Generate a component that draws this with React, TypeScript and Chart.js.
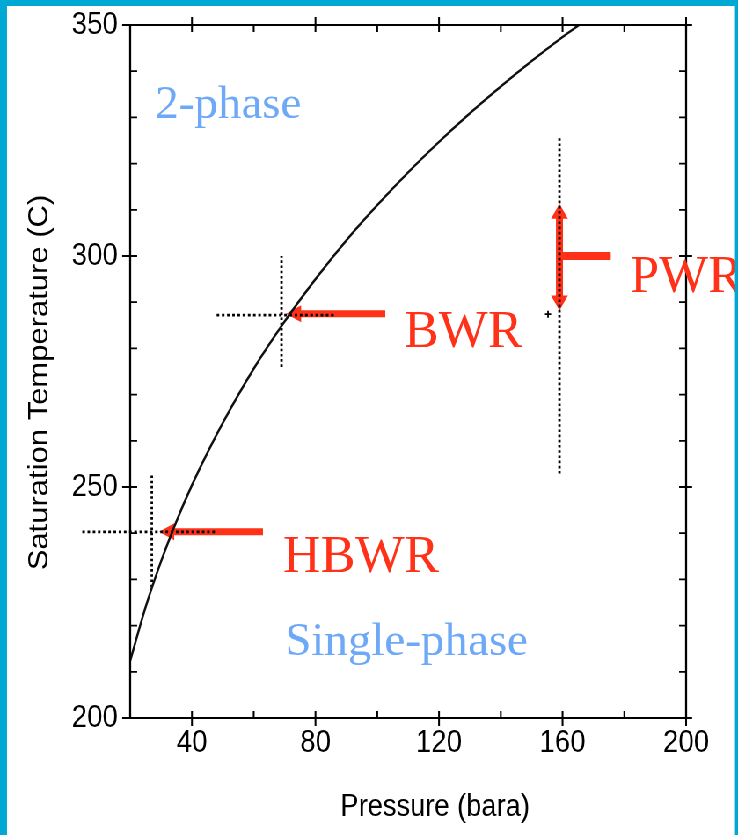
import { useEffect, useRef } from 'react';
import { Chart, registerables } from 'chart.js';

Chart.register(...registerables);

// The figure is laid out on a wider stage and squeezed horizontally to 738px.
const STAGE_W = 839;
const STAGE_H = 835;
const SQUEEZE = 738 / STAGE_W;

// Saturation line of water
const pressureBar = [20, 25, 30, 35, 40, 45, 50, 60, 70, 80, 90, 100, 110, 120, 130, 140, 150, 160, 165.3];
const saturationC = [212.4, 224.0, 233.9, 242.6, 250.4, 257.4, 263.9, 275.6, 285.8, 295.0, 303.4, 311.0, 318.1, 324.7, 330.9, 336.7, 342.2, 347.4, 350.0];

const xTicksLabelled = [40, 80, 120, 160, 200];
const yTicksLabelled = [200, 250, 300, 350];

// Dotted reference lines (pressure, temperature)
const bwrDotsH = [{ x: 48, y: 287.2 }, { x: 86, y: 287.2 }];
const bwrDotsV = [{ x: 69, y: 276 }, { x: 69, y: 300 }];
const hbwrDotsH = [{ x: 4.5, y: 240.3 }, { x: 48, y: 240.3 }];
const hbwrDotsV = [{ x: 27, y: 252.5 }, { x: 27, y: 228 }];
const pwrDotsV = [{ x: 159, y: 325.5 }, { x: 159, y: 252.5 }];
const pwrMarker = [{ x: 155.3, y: 287.4 }];

// Red operating-point arrows
const bwrArrow = { from: { x: 102.6, y: 287.5 }, to: { x: 70.5, y: 287.5 }, both: false };
const hbwrArrow = { from: { x: 63, y: 240.3 }, to: { x: 29.4, y: 240.3 }, both: false };
const pwrRange = { from: { x: 159, y: 288.2 }, to: { x: 159, y: 311.3 }, both: true };
const pwrStub = { from: { x: 159.5, y: 300 }, to: { x: 175.6, y: 300 } };

const regionLabels = [
  { text: '2-phase', x: 28.1, y: 329.9 },
  { text: 'Single-phase', x: 70.2, y: 213.6 },
];
const reactorLabels = [
  { text: 'BWR', x: 108.7, y: 280.2 },
  { text: 'HBWR', x: 69.5, y: 231.6 },
  { text: 'PWR', x: 181.9, y: 292.3 },
];

const SANS = '"Liberation Sans", Arial, Helvetica, sans-serif';
const SERIF = '"Liberation Serif", "Times New Roman", Times, serif';
const RED = '#ff3219';
const LIGHT_BLUE = '#6ea9f7';
const EDGE_BLUE = '#00a8d4';

function arrowShape(ctx: CanvasRenderingContext2D, x1: number, y1: number, x2: number, y2: number,
  shaft: number, headLen: number, headHalf: number, both: boolean) {
  const len = Math.hypot(x2 - x1, y2 - y1);
  const ux = (x2 - x1) / len, uy = (y2 - y1) / len;
  const nx = -uy, ny = ux;
  const h = shaft / 2;
  const sx = both ? x1 + ux * headLen : x1, sy = both ? y1 + uy * headLen : y1;
  const ex = x2 - ux * headLen, ey = y2 - uy * headLen;
  ctx.beginPath();
  if (both) {
    ctx.moveTo(x1, y1);
    ctx.lineTo(sx + nx * headHalf, sy + ny * headHalf);
    ctx.lineTo(sx + nx * h, sy + ny * h);
  } else {
    ctx.moveTo(sx + nx * h, sy + ny * h);
  }
  ctx.lineTo(ex + nx * h, ey + ny * h);
  ctx.lineTo(ex + nx * headHalf, ey + ny * headHalf);
  ctx.lineTo(x2, y2);
  ctx.lineTo(ex - nx * headHalf, ey - ny * headHalf);
  ctx.lineTo(ex - nx * h, ey - ny * h);
  ctx.lineTo(sx - nx * h, sy - ny * h);
  if (both) ctx.lineTo(sx - nx * headHalf, sy - ny * headHalf);
  ctx.closePath();
  ctx.fill();
}

const overlay = {
  id: 'overlay',
  beforeDatasetsDraw(chart: any) {
    const { ctx, scales: { x, y } } = chart;
    const px = (v: number) => x.getPixelForValue(v) * SQUEEZE;
    const py = (v: number) => y.getPixelForValue(v);
    ctx.save();
    ctx.scale(1 / SQUEEZE, 1);
    ctx.fillStyle = RED;
    for (const a of [bwrArrow, hbwrArrow, pwrRange]) {
      arrowShape(ctx, px(a.from.x), py(a.from.y), px(a.to.x), py(a.to.y), 7, 15, 8.5, a.both);
    }
    ctx.strokeStyle = RED;
    ctx.lineWidth = 8;
    ctx.lineCap = 'butt';
    ctx.beginPath();
    ctx.moveTo(px(pwrStub.from.x), py(pwrStub.from.y));
    ctx.lineTo(px(pwrStub.to.x), py(pwrStub.to.y));
    ctx.stroke();
    ctx.restore();
  },
  afterDatasetsDraw(chart: any) {
    const { ctx, chartArea: area, scales: { x, y } } = chart;

    // axis titles (drawn on the squeezed stage, like the tick labels)
    ctx.save();
    ctx.fillStyle = '#000';
    ctx.font = `31px ${SANS}`;
    ctx.textAlign = 'center';
    ctx.textBaseline = 'middle';
    ctx.fillText('Pressure (bara)', (area.left + area.right) / 2 + 27 / SQUEEZE, 807);
    ctx.translate(45, (area.top + area.bottom) / 2 + 11);
    ctx.rotate(-Math.PI / 2);
    ctx.fillText('Saturation Temperature (C)', 0, 0);
    ctx.restore();

    ctx.save();
    ctx.scale(1 / SQUEEZE, 1);
    const L = area.left * SQUEEZE, R = area.right * SQUEEZE, T = area.top, B = area.bottom;
    ctx.strokeStyle = '#000';
    ctx.lineWidth = 2;
    ctx.strokeRect(L, T, R - L, B - T);

    ctx.lineWidth = 1.8;
    ctx.beginPath();
    for (const t of x.ticks) {
      const v = t.value;
      const p = x.getPixelForValue(v) * SQUEEZE;
      const major = xTicksLabelled.includes(v);
      ctx.moveTo(p, major ? B + 8 : B); ctx.lineTo(p, B - 7);
      ctx.moveTo(p, major ? T - 8 : T); ctx.lineTo(p, T + 7);
    }
    for (const t of y.ticks) {
      const v = t.value;
      const p = y.getPixelForValue(v);
      const major = yTicksLabelled.includes(v);
      ctx.moveTo(major ? L - 8 : L, p); ctx.lineTo(L + 7, p);
      ctx.moveTo(major ? R + 6 : R, p); ctx.lineTo(R - 7, p);
    }
    ctx.stroke();

    ctx.textAlign = 'left';
    ctx.textBaseline = 'alphabetic';
    ctx.fillStyle = LIGHT_BLUE;
    ctx.font = `47px ${SERIF}`;
    for (const l of regionLabels) {
      ctx.fillText(l.text, x.getPixelForValue(l.x) * SQUEEZE, y.getPixelForValue(l.y));
    }
    ctx.fillStyle = RED;
    ctx.font = `52px ${SERIF}`;
    for (const l of reactorLabels) {
      ctx.fillText(l.text, x.getPixelForValue(l.x) * SQUEEZE, y.getPixelForValue(l.y));
    }
    ctx.restore();
  },
  afterDraw(chart: any) {
    const { ctx } = chart;
    ctx.save();
    ctx.scale(1 / SQUEEZE, 1);
    ctx.fillStyle = EDGE_BLUE;
    ctx.fillRect(0, 0, 7, STAGE_H);
    ctx.fillRect(0, 0, 738, 6);
    ctx.fillRect(735, 0, 3, STAGE_H);
    ctx.restore();
  },
};

const dotted = (data: { x: number; y: number }[], horizontal: boolean) => ({
  data,
  borderColor: '#000',
  borderWidth: 2.8,
  borderDash: horizontal ? [2.6 / SQUEEZE, 2.6 / SQUEEZE] : [2.6, 2.6],
  pointRadius: 0,
  clip: false as const,
  tension: 0,
});

export default function App() {
  const ref = useRef<HTMLCanvasElement>(null);

  useEffect(() => {
    document.documentElement.style.overflow = 'hidden';
    document.body.style.overflow = 'hidden';
    const chart = new Chart(ref.current!, {
      type: 'line',
      data: {
        datasets: [
          {
            data: pressureBar.map((p, i) => ({ x: p, y: saturationC[i] })),
            borderColor: '#111',
            borderWidth: 2.5,
            pointRadius: 0,
            cubicInterpolationMode: 'monotone',
          },
          dotted(bwrDotsH, true),
          dotted(bwrDotsV, false),
          dotted(hbwrDotsH, true),
          dotted(hbwrDotsV, false),
          dotted(pwrDotsV, false),
          {
            data: pwrMarker,
            showLine: false,
            pointStyle: 'cross',
            pointRadius: 3.5,
            borderWidth: 1.8,
            borderColor: '#000',
          },
        ] as any,
      },
      plugins: [overlay],
      options: {
        responsive: false,
        animation: false,
        events: [],
        layout: { padding: { top: 25, right: STAGE_W - 780, left: 0, bottom: 0 } },
        plugins: { legend: { display: false }, tooltip: { enabled: false } },
        scales: {
          x: {
            type: 'linear',
            min: 20,
            max: 200,
            afterFit: (s: any) => {
              s.height = STAGE_H - 718;
              s.paddingLeft = 0;
              s.paddingRight = 0;
            },
            grid: { display: false, drawTicks: false },
            border: { display: false },
            ticks: {
              stepSize: 20,
              autoSkip: false,
              maxRotation: 0,
              padding: 6,
              color: '#000',
              font: { family: SANS, size: 31.5 },
              callback: (v: any) => (xTicksLabelled.includes(Number(v)) ? String(v) : ''),
            },
          },
          y: {
            type: 'linear',
            min: 200,
            max: 350,
            afterFit: (s: any) => {
              s.width = 148;
              s.paddingTop = 0;
              s.paddingBottom = 0;
            },
            grid: { display: false, drawTicks: false },
            border: { display: false },
            ticks: {
              stepSize: 10,
              autoSkip: false,
              padding: 14,
              color: '#000',
              font: { family: SANS, size: 31.5 },
              callback: (v: any) => (yTicksLabelled.includes(Number(v)) ? String(v) : ''),
            },
          },
        },
      } as any,
    });
    return () => chart.destroy();
  }, []);

  return (
    <div
      style={{
        position: 'absolute',
        left: 0,
        top: 0,
        width: STAGE_W,
        height: STAGE_H,
        transform: `scaleX(${SQUEEZE})`,
        transformOrigin: '0 0',
        background: '#fff',
      }}
    >
      <canvas ref={ref} width={STAGE_W} height={STAGE_H} style={{ display: 'block' }} />
    </div>
  );
}
